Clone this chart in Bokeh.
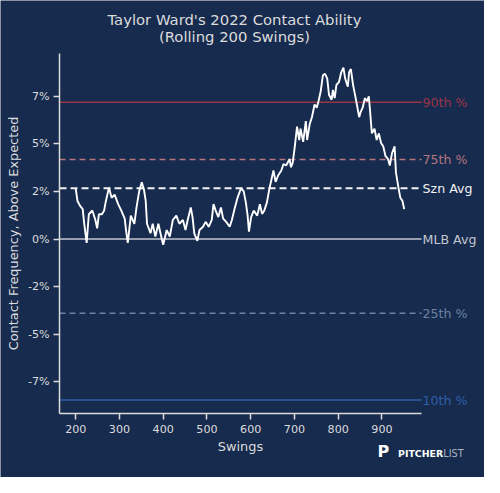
from bokeh.plotting import figure
from bokeh.models import Range1d, FixedTicker, Label
from bokeh.embed import file_html
from bokeh.resources import INLINE

swings = [200, 204, 210, 216, 219, 225, 230, 238, 245, 249,
          253, 260, 265, 269, 276, 282, 289, 297, 304, 312,
          315, 319, 326, 334, 339, 345, 351, 356, 360, 363,
          371, 376, 382, 389, 397, 400, 408, 415, 422, 430,
          437, 445, 451, 456, 463, 467, 471, 478, 483, 491,
          497, 504, 511, 515, 520, 526, 532, 537, 544, 552,
          557, 563, 570, 578, 584, 589, 593, 596, 601, 607,
          615, 621, 626, 631, 637, 643, 648, 652, 657, 663,
          670, 675, 681, 689, 692, 696, 700, 706, 711, 714,
          720, 726, 729, 735, 740, 746, 751, 755, 760, 765,
          770, 775, 779, 785, 788, 792, 796, 802, 807, 812,
          816, 822, 825, 829, 834, 840, 844, 848, 851, 856,
          861, 866, 870, 873, 877, 883, 888, 893, 898, 903,
          908, 914, 918, 923, 929, 932, 938, 942, 947, 951]

contact = [2.64, 2.0, 1.74, 1.57, 0.9, -0.2, 1.3, 1.5, 1.0, 0.56,
           1.3, 1.3, 1.5, 2.0, 2.7, 2.17, 2.33, 1.83, 1.5, 1.07,
           0.47, -0.2, 1.23, 0.8, 1.66, 2.5, 2.98, 2.6, 2.0, 0.8,
           0.3, 0.8, 0.13, 0.8, -0.03, -0.3, 0.47, 0.13, 1.0, 1.23,
           0.8, 1.0, 0.47, 1.0, 1.66, 1.16, 0.3, -0.1, 0.47, 0.64,
           0.9, 0.64, 1.0, 1.83, 1.49, 1.15, 1.66, 1.07, 0.9, 0.64,
           1.0, 1.57, 2.17, 2.67, 2.5, 1.91, 1.23, 0.39, 1.15, 1.49,
           1.23, 1.83, 1.32, 1.49, 1.91, 2.67, 3.18, 3.6, 3.0, 3.35,
           3.6, 3.94, 3.86, 4.2, 3.77, 4.0, 4.7, 5.9, 5.2, 5.8,
           5.1, 6.2, 5.2, 6.05, 6.4, 7.07, 6.9, 7.24, 7.75, 8.6,
           8.68, 8.43, 7.58, 7.32, 7.83, 7.4, 8.1, 8.26, 8.76, 9.0,
           8.43, 8.0, 8.76, 8.93, 8.1, 7.4, 6.9, 6.4, 6.65, 6.9,
           7.4, 7.24, 7.5, 6.7, 5.55, 5.8, 5.2, 5.55, 5.04, 4.87,
           4.37, 4.2, 3.86, 4.5, 4.87, 3.5, 2.67, 2.17, 2.0, 1.57]

ref_names = ["90th %", "75th %", "Szn Avg", "MLB Avg", "25th %", "10th %"]
ref_values = [7.19, 4.18, 2.67, 0.0, -3.90, -8.46]
ref_colors = ["#9a3447", "#b3767f", "#f2f2f2", "#c3c7cf", "#6c83a5", "#2f5fa8"]
ref_dashes = ["solid", "6 4", "7 4", "solid", "6 4", "solid"]
ref_widths = [1.5, 1.5, 1.9, 1.5, 1.5, 1.5]

x_ticks = [200, 300, 400, 500, 600, 700, 800, 900]
y_ticks = [7.5, 5.0, 2.5, 0.0, -2.5, -5.0, -7.5]
y_tick_labels = ["7%", "5%", "2%", "0%", "-2%", "-5%", "-7%"]

title_lines = ["Taylor Ward's 2022 Contact Ability", "(Rolling 200 Swings)"]

BG = "#172b4e"
FG = "#dcdcdc"
FONT = "DejaVu Sans"

# axes box (data limits of the drawn axes)
AX_X0, AX_X1 = 163.0, 990.7
AX_Y0, AX_Y1 = -9.18, 9.77
# whole canvas in data units, so that texts outside the axes box are drawn too
VIEW_X0, VIEW_X1 = 28.06, 1134.5
VIEW_Y0, VIEW_Y1 = -12.532, 12.532

p = figure(width=484, height=477, output_backend="svg", toolbar_location=None,
           x_range=Range1d(VIEW_X0, VIEW_X1), y_range=Range1d(VIEW_Y0, VIEW_Y1),
           background_fill_color=BG, border_fill_color=BG,
           min_border_left=0, min_border_right=0, min_border_top=0, min_border_bottom=0)
p.outline_line_color = None
p.grid.visible = False

for ax in (p.xaxis[0], p.yaxis[0]):
    ax.axis_line_color = FG
    ax.axis_line_width = 1.5
    ax.major_tick_line_color = FG
    ax.major_tick_line_width = 1.5
    ax.major_tick_out = 6
    ax.major_tick_in = 0
    ax.minor_tick_line_color = None
    ax.major_label_text_color = FG
    ax.major_label_text_font = FONT
    ax.major_label_text_font_size = "11.1px"
    ax.axis_label_text_color = FG
    ax.axis_label_text_font = FONT
    ax.axis_label_text_font_size = "12.9px"
    ax.axis_label_text_font_style = "normal"

p.xaxis.ticker = FixedTicker(ticks=x_ticks)
p.xaxis.bounds = (AX_X0, AX_X1)
p.xaxis.fixed_location = AX_Y0
p.xaxis.axis_label = "Swings"
p.xaxis.major_label_standoff = 5
p.xaxis.axis_label_standoff = 3
p.yaxis.ticker = FixedTicker(ticks=y_ticks)
p.yaxis.bounds = (AX_Y0, AX_Y1)
p.yaxis.fixed_location = AX_X0
p.yaxis.major_label_overrides = {t: l for t, l in zip(y_ticks, y_tick_labels)}
p.yaxis.axis_label = "Contact Frequency, Above Expected"
p.yaxis.major_label_standoff = 4
p.yaxis.axis_label_standoff = 4

for name, val, col, dash, w in zip(ref_names, ref_values, ref_colors, ref_dashes, ref_widths):
    p.segment(x0=AX_X0, y0=val, x1=AX_X1, y1=val, line_color=col,
              line_dash=dash, line_width=w)
    p.add_layout(Label(x=AX_X1, y=val, text=name, x_offset=1, text_color=col,
                       text_font=FONT, text_font_size="12.6px",
                       text_align="left", text_baseline="middle"))

p.line(swings, contact, line_color="white", line_width=1.9)

for txt, yb in zip(title_lines, [11.55, 10.64]):
    p.add_layout(Label(x=562.9, y=yb, text=txt, text_color=FG,
                       text_font=FONT, text_font_size="14.8px",
                       text_align="center", text_baseline="alphabetic"))

# Pitcher List logo
p.add_layout(Label(x=890.0, y=-11.18, text="P", text_color="white",
                   text_font=FONT, text_font_size="16px", text_font_style="bold",
                   text_align="left", text_baseline="alphabetic"))
p.add_layout(Label(x=936.9, y=-11.29, text="PITCHER", text_color="white",
                   text_font=FONT, text_font_size="9.4px", text_font_style="bold",
                   text_align="left", text_baseline="alphabetic"))
p.add_layout(Label(x=936.9, y=-11.29, x_offset=45.3, text="LIST", text_color="#aab3c3",
                   text_font=FONT, text_font_size="9.7px",
                   text_align="left", text_baseline="alphabetic"))

open("out.html", "w").write(file_html(p, INLINE))
